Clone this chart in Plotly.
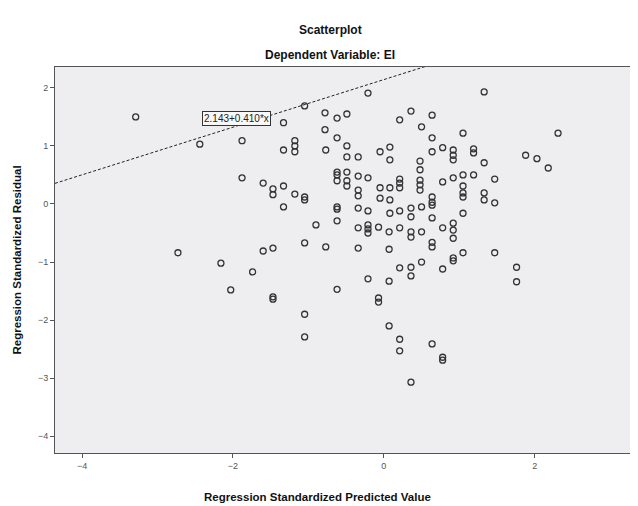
import plotly.graph_objects as go

# Regression Standardized Predicted Value (x) and Residual (y)
predicted = [
    -3.29, -2.44, -1.88, -1.33, -1.05, -0.78, -0.62, -0.49, -0.78, -0.62,
    -1.18, -1.18, -1.18, -1.33, -0.77, -0.49, -0.49, -1.88, -1.60, -1.47,
    -1.47, -1.33, -1.18, -1.05, -1.05, -1.33, -0.62, -0.62, -0.62, -0.49,
    -0.49, -0.49, -0.62, -0.62, -0.62, -0.90, -1.05, -0.77, -1.60, -1.47,
    -2.73, -2.16, -1.74, -2.03, -1.47, -1.47, -0.62, -1.05, -1.05,
    -0.21, 1.33, 0.21, 0.36, 0.64, 0.50, 1.05, 2.31, -0.05, 0.08,
    0.08, -0.34, 0.64, 0.64, 0.78, 0.92, 0.92, 0.92, 1.19, 1.19,
    1.33, 1.88, 2.03, 2.18, 0.48, 0.48, 0.48, 0.48, 0.48, -0.34,
    -0.21, -0.34, -0.34, -0.05, 0.08, -0.05, 0.08, 0.21, 0.21, 0.21,
    0.78, 0.92, 1.05, 1.19, 1.05, 1.05, 1.05, 1.47, 0.64, 0.64,
    0.64, 1.33, 1.33, 1.47, -0.34, -0.21, 0.08, 0.21, 0.36, 0.36,
    0.50, 0.64, 1.05, -0.34, -0.21, -0.21, -0.21, -0.07, 0.07, 0.21,
    0.36, 0.36, 0.50, 0.78, 0.92, 0.92, 0.92, -0.34, 0.07, 0.64,
    0.64, 1.05, 0.92, 1.47, 0.50, 0.92, 0.36, 0.36, 0.21, 0.78,
    1.76, 1.76, -0.21, 0.07, -0.07, -0.07, 0.07, 0.21, 0.21, 0.64,
    0.78, 0.78, 0.36,
]
residual = [
    1.50, 1.03, 1.09, 1.40, 1.69, 1.57, 1.48, 1.55, 1.28, 1.14,
    1.09, 1.00, 0.90, 0.93, 0.93, 1.00, 0.81, 0.45, 0.36, 0.26,
    0.16, 0.31, 0.17, 0.12, 0.07, -0.05, 0.55, 0.50, 0.40, 0.55,
    0.40, 0.31, -0.05, -0.09, -0.29, -0.36, -0.67, -0.74, -0.81, -0.76,
    -0.84, -1.02, -1.17, -1.48, -1.60, -1.64, -1.47, -1.90, -2.29,
    1.91, 1.93, 1.45, 1.60, 1.53, 1.33, 1.22, 1.22, 0.90, 0.98,
    0.76, 0.81, 1.14, 0.90, 0.97, 0.93, 0.84, 0.76, 0.95, 0.88,
    0.71, 0.84, 0.78, 0.62, 0.74, 0.59, 0.41, 0.33, 0.24, 0.48,
    0.45, 0.24, 0.14, 0.28, 0.28, 0.10, 0.07, 0.43, 0.28, 0.36,
    0.38, 0.45, 0.50, 0.50, 0.31, 0.19, 0.12, 0.43, 0.12, 0.03,
    -0.02, 0.19, 0.07, 0.02, -0.07, -0.12, -0.16, -0.12, -0.07, -0.22,
    -0.05, -0.24, -0.16, -0.41, -0.36, -0.43, -0.50, -0.40, -0.48, -0.41,
    -0.48, -0.57, -0.48, -0.41, -0.33, -0.45, -0.59, -0.76, -0.78, -0.66,
    -0.74, -0.84, -0.93, -0.84, -1.00, -0.98, -1.09, -1.24, -1.10, -1.12,
    -1.09, -1.34, -1.29, -1.33, -1.62, -1.69, -2.10, -2.33, -2.53, -2.41,
    -2.64, -2.69, -3.07,
]

x_ticks = [-4, -2, 0, 2]
y_ticks = [-4, -3, -2, -1, 0, 1, 2]
x_range = [-4.36, 3.37]
y_range = [-4.29, 2.36]

fit_intercept = 2.143
fit_slope = 0.410
fit_label = "2.143+0.410*x"
fit_label_pos = (-1.96, 1.48)

font_family = "Liberation Sans, Arial, sans-serif"

fig = go.Figure()

fit_x = x_range
fit_y = [fit_intercept + fit_slope * v for v in fit_x]
fig.add_trace(go.Scatter(
    x=fit_x, y=fit_y, mode="lines",
    line=dict(color="#222222", width=1, dash="3px,2px"),
    hoverinfo="skip", showlegend=False,
))

fig.add_trace(go.Scatter(
    x=predicted, y=residual, mode="markers",
    marker=dict(symbol="circle-open", size=6, color="#333333",
                line=dict(width=1.3, color="#333333")),
    showlegend=False,
))

fig.add_annotation(
    x=fit_label_pos[0], y=fit_label_pos[1], xref="x", yref="y",
    text=fit_label, showarrow=False,
    font=dict(family=font_family, size=10, color="#222222"),
    bgcolor="#f8f8f8", bordercolor="#333333", borderwidth=1, borderpad=1,
)

# Titles
fig.add_annotation(
    x=0.472, y=1.096, xref="paper", yref="paper", text="<b>Scatterplot</b>",
    showarrow=False, font=dict(family=font_family, size=12, color="#111111"),
    xanchor="center", yanchor="middle",
)
fig.add_annotation(
    x=0.472, y=1.031, xref="paper", yref="paper",
    text="<b>Dependent Variable: EI</b>",
    showarrow=False, font=dict(family=font_family, size=12, color="#111111"),
    xanchor="center", yanchor="middle",
)
fig.add_annotation(
    x=0.451, y=-0.114, xref="paper", yref="paper",
    text="<b>Regression Standardized Predicted Value</b>",
    showarrow=False, font=dict(family=font_family, size=11.5, color="#111111"),
    xanchor="center", yanchor="middle",
)
fig.add_annotation(
    x=-0.066, y=0.50, xref="paper", yref="paper",
    text="<b>Regression Standardized Residual</b>", textangle=-90,
    showarrow=False, font=dict(family=font_family, size=11.5, color="#111111"),
    xanchor="center", yanchor="middle",
)

axis_common = dict(
    showgrid=False, zeroline=False, showline=True, linecolor="#555555",
    linewidth=1, mirror=True, ticks="outside", ticklen=4, tickcolor="#555555",
    tickfont=dict(family=font_family, size=9, color="#555555"),
)

# The page body adds an 8px offset, so the figure is 8px smaller to fit.
fig.update_layout(
    width=630, height=498,
    margin=dict(l=47, r=0, t=59, b=53),
    paper_bgcolor="white", plot_bgcolor="#eeeef0",
    xaxis=dict(range=x_range, tickvals=x_ticks, **axis_common),
    yaxis=dict(range=y_range, tickvals=y_ticks, **axis_common),
)

fig.write_html("out.html")
